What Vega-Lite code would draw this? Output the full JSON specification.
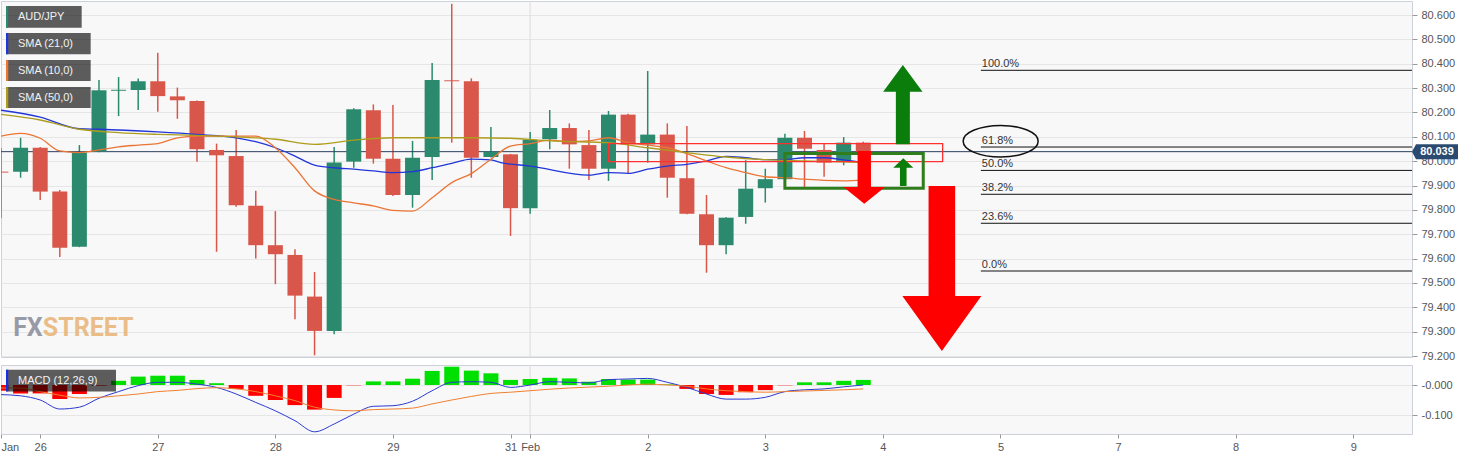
{
  "$schema": "https://vega.github.io/schema/vega-lite/v6.json",
  "padding": 0,
  "background": "#ffffff",
  "bounds": "flush",
  "spacing": 8,
  "resolve": {"scale": {"x": "independent", "y": "independent", "color": "independent", "shape": "independent"}, "axis": {"x": "independent", "y": "independent"}},
  "config": {
    "font": "Liberation Sans",
    "view": {"fill": "#f8f8f8", "stroke": "#cdd1d9", "strokeWidth": 1},
    "scale": {"continuousPadding": 0},
    "axis": {"labelFont": "Liberation Sans", "labelFontSize": 11, "labelColor": "#555555", "tickColor": "#9a9a9a", "domain": false, "gridColor": "#e6e6e6"}
  },
  "datasets": {
    "candles": [
      {"i":0,"o":79.957,"h":80.054,"l":79.767,"c":79.953},
      {"i":1,"o":79.957,"h":80.096,"l":79.932,"c":80.055},
      {"i":2,"o":80.055,"h":80.058,"l":79.841,"c":79.875},
      {"i":3,"o":79.875,"h":79.882,"l":79.607,"c":79.645},
      {"i":4,"o":79.649,"h":80.066,"l":79.647,"c":80.035},
      {"i":5,"o":80.039,"h":80.333,"l":80.037,"c":80.291},
      {"i":6,"o":80.289,"h":80.345,"l":80.185,"c":80.293},
      {"i":7,"o":80.292,"h":80.339,"l":80.21,"c":80.328},
      {"i":8,"o":80.328,"h":80.445,"l":80.203,"c":80.267},
      {"i":9,"o":80.266,"h":80.302,"l":80.174,"c":80.25},
      {"i":10,"o":80.247,"h":80.249,"l":79.998,"c":80.049},
      {"i":11,"o":80.046,"h":80.072,"l":79.628,"c":80.024},
      {"i":12,"o":80.021,"h":80.128,"l":79.813,"c":79.819},
      {"i":13,"o":79.817,"h":79.878,"l":79.6,"c":79.655},
      {"i":14,"o":79.655,"h":79.795,"l":79.495,"c":79.618},
      {"i":15,"o":79.615,"h":79.638,"l":79.351,"c":79.448},
      {"i":16,"o":79.444,"h":79.545,"l":79.203,"c":79.303},
      {"i":17,"o":79.303,"h":80.058,"l":79.289,"c":79.995},
      {"i":18,"o":79.998,"h":80.217,"l":79.973,"c":80.213},
      {"i":19,"o":80.209,"h":80.233,"l":79.99,"c":80.01},
      {"i":20,"o":80.01,"h":80.231,"l":79.857,"c":79.861},
      {"i":21,"o":79.861,"h":80.083,"l":79.809,"c":80.014},
      {"i":22,"o":80.017,"h":80.403,"l":79.923,"c":80.333},
      {"i":23,"o":80.332,"h":80.646,"l":80.076,"c":80.328},
      {"i":24,"o":80.328,"h":80.34,"l":79.932,"c":80.014},
      {"i":25,"o":80.017,"h":80.14,"l":80.015,"c":80.039},
      {"i":26,"o":80.028,"h":80.03,"l":79.693,"c":79.807},
      {"i":27,"o":79.807,"h":80.12,"l":79.784,"c":80.088},
      {"i":28,"o":80.09,"h":80.21,"l":80.049,"c":80.136},
      {"i":29,"o":80.136,"h":80.155,"l":79.969,"c":80.069},
      {"i":30,"o":80.066,"h":80.128,"l":79.923,"c":79.969},
      {"i":31,"o":79.969,"h":80.206,"l":79.919,"c":80.191},
      {"i":32,"o":80.191,"h":80.195,"l":79.95,"c":80.069},
      {"i":33,"o":80.069,"h":80.37,"l":79.994,"c":80.109},
      {"i":34,"o":80.109,"h":80.155,"l":79.85,"c":79.932},
      {"i":35,"o":79.93,"h":80.144,"l":79.782,"c":79.784},
      {"i":36,"o":79.782,"h":79.861,"l":79.542,"c":79.655},
      {"i":37,"o":79.655,"h":79.77,"l":79.618,"c":79.768},
      {"i":38,"o":79.771,"h":80.004,"l":79.743,"c":79.887},
      {"i":39,"o":79.889,"h":79.969,"l":79.83,"c":79.926},
      {"i":40,"o":79.926,"h":80.113,"l":79.919,"c":80.096},
      {"i":41,"o":80.096,"h":80.124,"l":79.891,"c":80.051},
      {"i":42,"o":80.046,"h":80.073,"l":79.936,"c":79.994},
      {"i":43,"o":80.001,"h":80.099,"l":79.983,"c":80.076},
      {"i":44,"o":80.076,"h":80.08,"l":80.03,"c":80.039}
    ],
    "edgeCandle": [
      {"i":0,"i2":0.38,"o":79.957,"c":79.953}
    ],
    "edgeHist": [
      {"i":0,"i2":0.38,"h":-0.019,"z":0}
    ],
    "sma": [
      {"name":"SMA (21,0)","i":0,"v":80.209},{"name":"SMA (21,0)","i":2,"v":80.181},{"name":"SMA (21,0)","i":4,"v":80.133},{"name":"SMA (21,0)","i":5,"v":80.131},{"name":"SMA (21,0)","i":8,"v":80.12},{"name":"SMA (21,0)","i":10,"v":80.11},{"name":"SMA (21,0)","i":12,"v":80.096},{"name":"SMA (21,0)","i":13,"v":80.08},{"name":"SMA (21,0)","i":14,"v":80.055},{"name":"SMA (21,0)","i":15,"v":80.021},{"name":"SMA (21,0)","i":16,"v":79.984},{"name":"SMA (21,0)","i":17,"v":79.973},{"name":"SMA (21,0)","i":18,"v":79.967},{"name":"SMA (21,0)","i":19,"v":79.96},{"name":"SMA (21,0)","i":20,"v":79.953},{"name":"SMA (21,0)","i":21,"v":79.957},{"name":"SMA (21,0)","i":22,"v":79.973},{"name":"SMA (21,0)","i":23,"v":79.991},{"name":"SMA (21,0)","i":24,"v":80.008},{"name":"SMA (21,0)","i":25,"v":80.005},{"name":"SMA (21,0)","i":25.5,"v":79.994},{"name":"SMA (21,0)","i":27,"v":79.98},{"name":"SMA (21,0)","i":30,"v":79.943},{"name":"SMA (21,0)","i":31,"v":79.953},{"name":"SMA (21,0)","i":32,"v":79.95},{"name":"SMA (21,0)","i":33,"v":79.967},{"name":"SMA (21,0)","i":34,"v":79.98},{"name":"SMA (21,0)","i":35,"v":79.987},{"name":"SMA (21,0)","i":36,"v":80.001},{"name":"SMA (21,0)","i":37,"v":80.02},{"name":"SMA (21,0)","i":38,"v":80.014},{"name":"SMA (21,0)","i":39,"v":80.006},{"name":"SMA (21,0)","i":40,"v":80.006},{"name":"SMA (21,0)","i":41,"v":80.014},{"name":"SMA (21,0)","i":42,"v":80.014},{"name":"SMA (21,0)","i":43,"v":80.005},{"name":"SMA (21,0)","i":44,"v":79.994},
      {"name":"SMA (10,0)","i":0,"v":80.103},{"name":"SMA (10,0)","i":1,"v":80.114},{"name":"SMA (10,0)","i":2,"v":80.094},{"name":"SMA (10,0)","i":3,"v":80.042},{"name":"SMA (10,0)","i":4,"v":80.035},{"name":"SMA (10,0)","i":5,"v":80.046},{"name":"SMA (10,0)","i":6,"v":80.059},{"name":"SMA (10,0)","i":7,"v":80.066},{"name":"SMA (10,0)","i":8,"v":80.072},{"name":"SMA (10,0)","i":9,"v":80.096},{"name":"SMA (10,0)","i":10,"v":80.103},{"name":"SMA (10,0)","i":11,"v":80.103},{"name":"SMA (10,0)","i":12,"v":80.103},{"name":"SMA (10,0)","i":13,"v":80.103},{"name":"SMA (10,0)","i":14,"v":80.055},{"name":"SMA (10,0)","i":15,"v":79.973},{"name":"SMA (10,0)","i":16,"v":79.878},{"name":"SMA (10,0)","i":17,"v":79.843},{"name":"SMA (10,0)","i":18,"v":79.829},{"name":"SMA (10,0)","i":19,"v":79.816},{"name":"SMA (10,0)","i":20,"v":79.798},{"name":"SMA (10,0)","i":21,"v":79.795},{"name":"SMA (10,0)","i":22,"v":79.85},{"name":"SMA (10,0)","i":23,"v":79.912},{"name":"SMA (10,0)","i":24,"v":79.949},{"name":"SMA (10,0)","i":25,"v":80.008},{"name":"SMA (10,0)","i":26,"v":80.062},{"name":"SMA (10,0)","i":27,"v":80.072},{"name":"SMA (10,0)","i":28,"v":80.086},{"name":"SMA (10,0)","i":29,"v":80.08},{"name":"SMA (10,0)","i":30,"v":80.083},{"name":"SMA (10,0)","i":31,"v":80.096},{"name":"SMA (10,0)","i":32,"v":80.076},{"name":"SMA (10,0)","i":33,"v":80.066},{"name":"SMA (10,0)","i":34,"v":80.055},{"name":"SMA (10,0)","i":35,"v":80.031},{"name":"SMA (10,0)","i":36,"v":80.001},{"name":"SMA (10,0)","i":37,"v":79.973},{"name":"SMA (10,0)","i":38,"v":79.953},{"name":"SMA (10,0)","i":39,"v":79.936},{"name":"SMA (10,0)","i":40,"v":79.932},{"name":"SMA (10,0)","i":41,"v":79.926},{"name":"SMA (10,0)","i":42,"v":79.921},{"name":"SMA (10,0)","i":43,"v":79.919},{"name":"SMA (10,0)","i":44,"v":79.923},
      {"name":"SMA (50,0)","i":0,"v":80.192},{"name":"SMA (50,0)","i":2,"v":80.169},{"name":"SMA (50,0)","i":4,"v":80.131},{"name":"SMA (50,0)","i":6,"v":80.117},{"name":"SMA (50,0)","i":8,"v":80.11},{"name":"SMA (50,0)","i":10,"v":80.106},{"name":"SMA (50,0)","i":12,"v":80.1},{"name":"SMA (50,0)","i":14,"v":80.09},{"name":"SMA (50,0)","i":16,"v":80.069},{"name":"SMA (50,0)","i":18,"v":80.086},{"name":"SMA (50,0)","i":20,"v":80.096},{"name":"SMA (50,0)","i":22,"v":80.096},{"name":"SMA (50,0)","i":24,"v":80.096},{"name":"SMA (50,0)","i":26,"v":80.094},{"name":"SMA (50,0)","i":28,"v":80.083},{"name":"SMA (50,0)","i":31,"v":80.076},{"name":"SMA (50,0)","i":33,"v":80.055},{"name":"SMA (50,0)","i":35,"v":80.035},{"name":"SMA (50,0)","i":37,"v":80.017},{"name":"SMA (50,0)","i":39,"v":80.006},{"name":"SMA (50,0)","i":41,"v":80.001},{"name":"SMA (50,0)","i":43,"v":79.997},{"name":"SMA (50,0)","i":44,"v":79.994}
    ],
    "fib": [
      {"lab":"100.0%","p":80.373},{"lab":"61.8%","p":80.058},{"lab":"50.0%","p":79.962},{"lab":"38.2%","p":79.864},{"lab":"23.6%","p":79.745},{"lab":"0.0%","p":79.549}
    ],
    "zones": [
      {"z":"r","x1":31.0,"x2":48.05,"y1":80.072,"y2":79.998},
      {"z":"g","x1":40.0,"x2":47.06,"y1":80.031,"y2":79.889}
    ],
    "arrows": [
      {"a":"upBig","i":46.02,"p":80.069},
      {"a":"upSmall","i":46.04,"p":79.898},
      {"a":"downMid","i":44.05,"p":80.042},
      {"a":"downBig","i":48.01,"p":79.898}
    ],
    "legend": [
      {"name":"AUD/JPY","x1":0.255,"x2":4.117,"xs":0.37,"y1":80.637,"y2":80.548,"ym":80.5925},
      {"name":"SMA (21,0)","x1":0.255,"x2":4.576,"xs":0.37,"y1":80.526,"y2":80.439,"ym":80.4825},
      {"name":"SMA (10,0)","x1":0.255,"x2":4.576,"xs":0.37,"y1":80.415,"y2":80.329,"ym":80.372},
      {"name":"SMA (50,0)","x1":0.255,"x2":4.576,"xs":0.37,"y1":80.304,"y2":80.218,"ym":80.261}
    ],
    "hist": [
      {"i":0,"h":-0.019},{"i":1,"h":-0.028},{"i":2,"h":-0.028},{"i":3,"h":-0.047},{"i":4,"h":-0.03},{"i":5,"h":-0.002},{"i":6,"h":0.014},{"i":7,"h":0.028},{"i":8,"h":0.031},{"i":9,"h":0.031},{"i":10,"h":0.017},{"i":11,"h":0.006},{"i":12,"h":-0.013},{"i":13,"h":-0.036},{"i":14,"h":-0.05},{"i":15,"h":-0.067},{"i":16,"h":-0.082},{"i":17,"h":-0.043},{"i":18,"h":-0.001},{"i":19,"h":0.012},{"i":20,"h":0.012},{"i":21,"h":0.021},{"i":22,"h":0.047},{"i":23,"h":0.061},{"i":24,"h":0.048},{"i":25,"h":0.039},{"i":26,"h":0.017},{"i":27,"h":0.02},{"i":28,"h":0.024},{"i":29,"h":0.022},{"i":30,"h":0.011},{"i":31,"h":0.02},{"i":32,"h":0.018},{"i":33,"h":0.018},{"i":34,"h":0.002},{"i":35,"h":-0.013},{"i":36,"h":-0.03},{"i":37,"h":-0.033},{"i":38,"h":-0.024},{"i":39,"h":-0.017},{"i":40,"h":-0.001},{"i":41,"h":0.009},{"i":42,"h":0.009},{"i":43,"h":0.014},{"i":44,"h":0.017}
    ],
    "macd": [
      {"name":"MACD","i":0,"v":-0.032},{"name":"MACD","i":1,"v":-0.036},{"name":"MACD","i":2,"v":-0.05},{"name":"MACD","i":3,"v":-0.08},{"name":"MACD","i":4,"v":-0.074},{"name":"MACD","i":5,"v":-0.044},{"name":"MACD","i":6,"v":-0.022},{"name":"MACD","i":7,"v":-0.002},{"name":"MACD","i":8,"v":0.009},{"name":"MACD","i":9,"v":0.009},{"name":"MACD","i":10,"v":0.003},{"name":"MACD","i":11,"v":-0.008},{"name":"MACD","i":12,"v":-0.03},{"name":"MACD","i":13,"v":-0.058},{"name":"MACD","i":14,"v":-0.086},{"name":"MACD","i":15,"v":-0.119},{"name":"MACD","i":16,"v":-0.156},{"name":"MACD","i":17,"v":-0.13},{"name":"MACD","i":18,"v":-0.097},{"name":"MACD","i":19,"v":-0.071},{"name":"MACD","i":20,"v":-0.069},{"name":"MACD","i":21,"v":-0.054},{"name":"MACD","i":22,"v":-0.019},{"name":"MACD","i":23,"v":0.009},{"name":"MACD","i":24,"v":0.011},{"name":"MACD","i":25,"v":0.009},{"name":"MACD","i":26,"v":-0.008},{"name":"MACD","i":27,"v":0.0},{"name":"MACD","i":28,"v":0.011},{"name":"MACD","i":29,"v":0.009},{"name":"MACD","i":30,"v":0.007},{"name":"MACD","i":31,"v":0.018},{"name":"MACD","i":32,"v":0.02},{"name":"MACD","i":33,"v":0.022},{"name":"MACD","i":34,"v":0.009},{"name":"MACD","i":35,"v":-0.008},{"name":"MACD","i":36,"v":-0.03},{"name":"MACD","i":37,"v":-0.047},{"name":"MACD","i":38,"v":-0.047},{"name":"MACD","i":39,"v":-0.041},{"name":"MACD","i":40,"v":-0.022},{"name":"MACD","i":41,"v":-0.016},{"name":"MACD","i":42,"v":-0.013},{"name":"MACD","i":43,"v":-0.006},{"name":"MACD","i":44,"v":0.0},
      {"name":"Signal","i":0,"v":-0.01},{"name":"Signal","i":1,"v":-0.01},{"name":"Signal","i":2,"v":-0.022},{"name":"Signal","i":3,"v":-0.034},{"name":"Signal","i":4,"v":-0.043},{"name":"Signal","i":5,"v":-0.041},{"name":"Signal","i":6,"v":-0.036},{"name":"Signal","i":7,"v":-0.03},{"name":"Signal","i":8,"v":-0.022},{"name":"Signal","i":9,"v":-0.018},{"name":"Signal","i":10,"v":-0.012},{"name":"Signal","i":11,"v":-0.009},{"name":"Signal","i":12,"v":-0.013},{"name":"Signal","i":13,"v":-0.022},{"name":"Signal","i":14,"v":-0.036},{"name":"Signal","i":15,"v":-0.052},{"name":"Signal","i":16,"v":-0.074},{"name":"Signal","i":17,"v":-0.083},{"name":"Signal","i":18,"v":-0.086},{"name":"Signal","i":19,"v":-0.082},{"name":"Signal","i":20,"v":-0.08},{"name":"Signal","i":21,"v":-0.077},{"name":"Signal","i":22,"v":-0.063},{"name":"Signal","i":23,"v":-0.05},{"name":"Signal","i":24,"v":-0.038},{"name":"Signal","i":25,"v":-0.028},{"name":"Signal","i":26,"v":-0.024},{"name":"Signal","i":27,"v":-0.019},{"name":"Signal","i":28,"v":-0.014},{"name":"Signal","i":29,"v":-0.01},{"name":"Signal","i":30,"v":-0.007},{"name":"Signal","i":31,"v":-0.004},{"name":"Signal","i":32,"v":0.0},{"name":"Signal","i":33,"v":0.003},{"name":"Signal","i":34,"v":0.0},{"name":"Signal","i":35,"v":-0.004},{"name":"Signal","i":36,"v":-0.013},{"name":"Signal","i":37,"v":-0.019},{"name":"Signal","i":38,"v":-0.022},{"name":"Signal","i":39,"v":-0.024},{"name":"Signal","i":40,"v":-0.022},{"name":"Signal","i":41,"v":-0.02},{"name":"Signal","i":42,"v":-0.018},{"name":"Signal","i":43,"v":-0.016},{"name":"Signal","i":44,"v":-0.013}
    ]
  },
  "vconcat": [
    {
      "width": 1411,
      "height": 356,
      "layer": [
        {
          "data": {"values": [{"i": 27, "p": 80.0}]},
          "mark": {"type": "rule", "color": "#dcdcdc", "strokeWidth": 1},
          "encoding": {
            "x": {"field": "i", "type": "quantitative", "scale": {"domain": [0, 72], "nice": false, "zero": false, "padding": 0}, "axis": null}
          }
        },
        {
          "data": {"name": "candles"},
          "mark": {"type": "rule", "strokeWidth": 1.5, "clip": true},
          "encoding": {
            "x": {"field": "i", "type": "quantitative", "axis": null},
            "y": {"field": "l", "type": "quantitative", "scale": {"domain": [79.196, 80.6575], "nice": false, "zero": false},
                  "axis": {"orient": "right", "values": [79.2,79.3,79.4,79.5,79.6,79.7,79.8,79.9,80.0,80.1,80.2,80.3,80.4,80.5,80.6], "format": ".3f", "grid": true, "tickSize": 5, "labelPadding": 4, "title": null}},
            "y2": {"field": "h"},
            "color": {"condition": {"test": "datum.c >= datum.o", "value": "#2b8a6e"}, "value": "#d9574a"}
          }
        },
        {
          "data": {"name": "fib"},
          "mark": {"type": "rule", "color": "#111111", "strokeWidth": 1},
          "encoding": {
            "x": {"datum": 50, "type": "quantitative", "axis": null},
            "x2": {"datum": 72},
            "y": {"field": "p", "type": "quantitative", "axis": {"orient": "right", "values": [79.2,79.3,79.4,79.5,79.6,79.7,79.8,79.9,80.0,80.1,80.2,80.3,80.4,80.5,80.6], "format": ".3f", "grid": true, "tickSize": 5, "labelPadding": 4, "title": null}}
          }
        },
        {
          "data": {"values": [{"p": 80.039}]},
          "mark": {"type": "rule", "color": "#2b3f5f", "strokeWidth": 1},
          "encoding": {
            "y": {"field": "p", "type": "quantitative", "axis": {"orient": "right", "values": [79.2,79.3,79.4,79.5,79.6,79.7,79.8,79.9,80.0,80.1,80.2,80.3,80.4,80.5,80.6], "format": ".3f", "grid": true, "tickSize": 5, "labelPadding": 4, "title": null}}
          }
        },
        {
          "data": {"name": "candles"},
          "transform": [{"filter": "datum.i > 0"}],
          "mark": {"type": "bar", "size": 15, "clip": true},
          "encoding": {
            "x": {"field": "i", "type": "quantitative", "axis": null},
            "y": {"field": "o", "type": "quantitative", "axis": {"orient": "right", "values": [79.2,79.3,79.4,79.5,79.6,79.7,79.8,79.9,80.0,80.1,80.2,80.3,80.4,80.5,80.6], "format": ".3f", "grid": true, "tickSize": 5, "labelPadding": 4, "title": null}},
            "y2": {"field": "c"},
            "color": {"condition": {"test": "datum.c >= datum.o", "value": "#2b8a6e"}, "value": "#d9574a"}
          }
        },
        {
          "data": {"name": "edgeCandle"},
          "mark": {"type": "rect", "color": "#d9574a"},
          "encoding": {
            "x": {"field": "i", "type": "quantitative", "axis": null},
            "x2": {"field": "i2"},
            "y": {"field": "o", "type": "quantitative", "axis": {"orient": "right", "values": [79.2,79.3,79.4,79.5,79.6,79.7,79.8,79.9,80.0,80.1,80.2,80.3,80.4,80.5,80.6], "format": ".3f", "grid": true, "tickSize": 5, "labelPadding": 4, "title": null}},
            "y2": {"field": "c"}
          }
        },
        {
          "data": {"name": "sma"},
          "mark": {"type": "line", "strokeWidth": 1.3, "interpolate": "monotone", "clip": true},
          "encoding": {
            "x": {"field": "i", "type": "quantitative", "axis": null},
            "y": {"field": "v", "type": "quantitative", "axis": {"orient": "right", "values": [79.2,79.3,79.4,79.5,79.6,79.7,79.8,79.9,80.0,80.1,80.2,80.3,80.4,80.5,80.6], "format": ".3f", "grid": true, "tickSize": 5, "labelPadding": 4, "title": null}},
            "color": {"field": "name", "type": "nominal", "legend": null,
                      "scale": {"domain": ["AUD/JPY", "SMA (21,0)", "SMA (10,0)", "SMA (50,0)"], "range": ["#2b8a6e", "#2236d8", "#ec7434", "#ad9d1c"]}}
          }
        },
        {
          "data": {"name": "zones"},
          "mark": {"type": "rect", "filled": false},
          "encoding": {
            "x": {"field": "x1", "type": "quantitative", "axis": null},
            "x2": {"field": "x2"},
            "y": {"field": "y1", "type": "quantitative", "axis": {"orient": "right", "values": [79.2,79.3,79.4,79.5,79.6,79.7,79.8,79.9,80.0,80.1,80.2,80.3,80.4,80.5,80.6], "format": ".3f", "grid": true, "tickSize": 5, "labelPadding": 4, "title": null}},
            "y2": {"field": "y2"},
            "stroke": {"condition": {"test": "datum.z == 'r'", "value": "#ff3030"}, "value": "#2f7d1c"},
            "strokeWidth": {"condition": {"test": "datum.z == 'r'", "value": 1.3}, "value": 3}
          }
        },
        {
          "data": {"name": "arrows"},
          "mark": {"type": "point", "filled": true, "size": 4, "opacity": 1, "strokeWidth": 0},
          "encoding": {
            "x": {"field": "i", "type": "quantitative", "axis": null},
            "y": {"field": "p", "type": "quantitative", "axis": {"orient": "right", "values": [79.2,79.3,79.4,79.5,79.6,79.7,79.8,79.9,80.0,80.1,80.2,80.3,80.4,80.5,80.6], "format": ".3f", "grid": true, "tickSize": 5, "labelPadding": 4, "title": null}},
            "shape": {"field": "a", "type": "nominal", "legend": null,
                      "scale": {"domain": ["upBig", "upSmall", "downMid", "downBig"],
                                "range": [
                                  "M -7 0 L 7 0 L 7 -52.6 L 19.7 -52.6 L 0 -79.3 L -19.7 -52.6 L -7 -52.6 Z",
                                  "M -3.3 0 L 3.3 0 L 3.3 -18.3 L 10 -18.3 L 0 -27.7 L -10 -18.3 L -3.3 -18.3 Z",
                                  "M -6.7 0 L 6.7 0 L 6.7 36 L 20.8 36 L 0 52.7 L -20.8 36 L -6.7 36 Z",
                                  "M -13.3 0 L 13.3 0 L 13.3 110 L 39.5 110 L 0 165 L -39.5 110 L -13.3 110 Z"
                                ]}},
            "fill": {"condition": {"test": "indexof(datum.a, 'up') >= 0", "value": "#0b7d0b"}, "value": "#ff0000"}
          }
        },
        {
          "data": {"values": [{"i": 51.01, "p": 80.082}]},
          "mark": {"type": "point", "filled": false, "size": 4, "opacity": 1, "stroke": "#111111", "strokeWidth": 1.5,
                   "shape": "M -37.5 0 A 37.5 15.8 0 1 0 37.5 0 A 37.5 15.8 0 1 0 -37.5 0 Z"},
          "encoding": {
            "x": {"field": "i", "type": "quantitative", "axis": null},
            "y": {"field": "p", "type": "quantitative", "axis": {"orient": "right", "values": [79.2,79.3,79.4,79.5,79.6,79.7,79.8,79.9,80.0,80.1,80.2,80.3,80.4,80.5,80.6], "format": ".3f", "grid": true, "tickSize": 5, "labelPadding": 4, "title": null}}
          }
        },
        {
          "data": {"name": "fib"},
          "mark": {"type": "text", "align": "left", "baseline": "alphabetic", "dy": -3, "fontSize": 11, "color": "#333333"},
          "encoding": {
            "x": {"datum": 50.05, "type": "quantitative", "axis": null},
            "y": {"field": "p", "type": "quantitative", "axis": {"orient": "right", "values": [79.2,79.3,79.4,79.5,79.6,79.7,79.8,79.9,80.0,80.1,80.2,80.3,80.4,80.5,80.6], "format": ".3f", "grid": true, "tickSize": 5, "labelPadding": 4, "title": null}},
            "text": {"field": "lab"}
          }
        },
        {
          "data": {"name": "legend"},
          "mark": {"type": "rect", "color": "#000000", "opacity": 0.63},
          "encoding": {
            "x": {"field": "x1", "type": "quantitative", "axis": null},
            "x2": {"field": "x2"},
            "y": {"field": "y1", "type": "quantitative", "axis": {"orient": "right", "values": [79.2,79.3,79.4,79.5,79.6,79.7,79.8,79.9,80.0,80.1,80.2,80.3,80.4,80.5,80.6], "format": ".3f", "grid": true, "tickSize": 5, "labelPadding": 4, "title": null}},
            "y2": {"field": "y2"}
          }
        },
        {
          "data": {"name": "legend"},
          "mark": {"type": "rect"},
          "encoding": {
            "x": {"field": "x1", "type": "quantitative", "axis": null},
            "x2": {"field": "xs"},
            "y": {"field": "y1", "type": "quantitative", "axis": {"orient": "right", "values": [79.2,79.3,79.4,79.5,79.6,79.7,79.8,79.9,80.0,80.1,80.2,80.3,80.4,80.5,80.6], "format": ".3f", "grid": true, "tickSize": 5, "labelPadding": 4, "title": null}},
            "y2": {"field": "y2"},
            "color": {"field": "name", "type": "nominal", "legend": null,
                      "scale": {"domain": ["AUD/JPY", "SMA (21,0)", "SMA (10,0)", "SMA (50,0)"], "range": ["#2b8a6e", "#2236d8", "#ec7434", "#ad9d1c"]}}
          }
        },
        {
          "data": {"name": "legend"},
          "mark": {"type": "text", "align": "left", "baseline": "middle", "dx": 12, "fontSize": 11, "color": "#f2f2f2"},
          "encoding": {
            "x": {"field": "x1", "type": "quantitative", "axis": null},
            "y": {"field": "ym", "type": "quantitative", "axis": {"orient": "right", "values": [79.2,79.3,79.4,79.5,79.6,79.7,79.8,79.9,80.0,80.1,80.2,80.3,80.4,80.5,80.6], "format": ".3f", "grid": true, "tickSize": 5, "labelPadding": 4, "title": null}},
            "text": {"field": "name"}
          }
        },
        {
          "data": {"values": [{"t": "FX", "i": 2.13, "p": 79.282}]},
          "mark": {"type": "text", "align": "right", "baseline": "alphabetic", "font": "Roboto", "fontWeight": "bold", "fontSize": 25, "opacity": 0.9, "color": "#8e909e"},
          "encoding": {
            "x": {"field": "i", "type": "quantitative", "axis": null},
            "y": {"field": "p", "type": "quantitative", "axis": {"orient": "right", "values": [79.2,79.3,79.4,79.5,79.6,79.7,79.8,79.9,80.0,80.1,80.2,80.3,80.4,80.5,80.6], "format": ".3f", "grid": true, "tickSize": 5, "labelPadding": 4, "title": null}},
            "text": {"field": "t"}
          }
        },
        {
          "data": {"values": [{"t": "STREET", "i": 2.13, "p": 79.282}]},
          "mark": {"type": "text", "align": "left", "baseline": "alphabetic", "font": "Roboto", "fontWeight": "bold", "fontSize": 25, "opacity": 0.9, "color": "#e9b77c"},
          "encoding": {
            "x": {"field": "i", "type": "quantitative", "axis": null},
            "y": {"field": "p", "type": "quantitative", "axis": {"orient": "right", "values": [79.2,79.3,79.4,79.5,79.6,79.7,79.8,79.9,80.0,80.1,80.2,80.3,80.4,80.5,80.6], "format": ".3f", "grid": true, "tickSize": 5, "labelPadding": 4, "title": null}},
            "text": {"field": "t"}
          }
        },
        {
          "data": {"values": [{"i": 72, "p": 80.039, "t": "80.039"}]},
          "mark": {"type": "point", "filled": true, "size": 4, "opacity": 1, "strokeWidth": 0, "color": "#2b4a6f",
                   "shape": "M 0 0 L 4 -7.5 L 46 -7.5 L 46 7.5 L 4 7.5 Z"},
          "encoding": {
            "x": {"field": "i", "type": "quantitative", "axis": null},
            "y": {"field": "p", "type": "quantitative", "axis": {"orient": "right", "values": [79.2,79.3,79.4,79.5,79.6,79.7,79.8,79.9,80.0,80.1,80.2,80.3,80.4,80.5,80.6], "format": ".3f", "grid": true, "tickSize": 5, "labelPadding": 4, "title": null}}
          }
        },
        {
          "data": {"values": [{"i": 72, "p": 80.039, "t": "80.039"}]},
          "mark": {"type": "text", "align": "center", "baseline": "middle", "dx": 25, "fontSize": 11, "fontWeight": "bold", "color": "#ffffff"},
          "encoding": {
            "x": {"field": "i", "type": "quantitative", "axis": null},
            "y": {"field": "p", "type": "quantitative", "axis": {"orient": "right", "values": [79.2,79.3,79.4,79.5,79.6,79.7,79.8,79.9,80.0,80.1,80.2,80.3,80.4,80.5,80.6], "format": ".3f", "grid": true, "tickSize": 5, "labelPadding": 4, "title": null}},
            "text": {"field": "t"}
          }
        }
      ]
    },
    {
      "width": 1411,
      "height": 69,
      "layer": [
        {
          "data": {"values": [{"i": 27}]},
          "mark": {"type": "rule", "color": "#dcdcdc", "strokeWidth": 1},
          "encoding": {
            "x": {"field": "i", "type": "quantitative", "scale": {"domain": [0, 72], "nice": false, "zero": false, "padding": 0},
                  "axis": {"orient": "bottom", "values": [0,2,8,14,20,26,27,33,39,45,51,57,63,69], "grid": false, "tickSize": 4, "labelPadding": 3, "labelOverlap": false, "labelFlush": true,
                           "labelExpr": "datum.value==0?'Jan':datum.value==2?'26':datum.value==8?'27':datum.value==14?'28':datum.value==20?'29':datum.value==26?'31':datum.value==27?'Feb':datum.value==33?'2':datum.value==39?'3':datum.value==45?'4':datum.value==51?'5':datum.value==57?'7':datum.value==63?'8':'9'",
                           "title": null}}
          }
        },
        {
          "data": {"name": "hist"},
          "transform": [{"filter": "datum.i > 0"}],
          "mark": {"type": "bar", "size": 15, "clip": true},
          "encoding": {
            "x": {"field": "i", "type": "quantitative",
                  "axis": {"orient": "bottom", "values": [0,2,8,14,20,26,27,33,39,45,51,57,63,69], "grid": false, "tickSize": 4, "labelPadding": 3, "labelOverlap": false, "labelFlush": true,
                           "labelExpr": "datum.value==0?'Jan':datum.value==2?'26':datum.value==8?'27':datum.value==14?'28':datum.value==20?'29':datum.value==26?'31':datum.value==27?'Feb':datum.value==33?'2':datum.value==39?'3':datum.value==45?'4':datum.value==51?'5':datum.value==57?'7':datum.value==63?'8':'9'",
                           "title": null}},
            "y": {"field": "h", "type": "quantitative", "scale": {"domain": [-0.1633, 0.0667], "nice": false, "zero": false},
                  "axis": {"orient": "right", "values": [0, -0.1], "grid": true, "tickSize": 5, "labelPadding": 4,
                           "labelExpr": "datum.value == 0 ? '-0.000' : '-0.100'", "title": null}},
            "color": {"condition": {"test": "datum.h >= 0", "value": "#00e000"}, "value": "#ff0000"}
          }
        },
        {
          "data": {"name": "edgeHist"},
          "mark": {"type": "rect", "color": "#ff0000"},
          "encoding": {
            "x": {"field": "i", "type": "quantitative",
                  "axis": {"orient": "bottom", "values": [0,2,8,14,20,26,27,33,39,45,51,57,63,69], "grid": false, "tickSize": 4, "labelPadding": 3, "labelOverlap": false, "labelFlush": true,
                           "labelExpr": "datum.value==0?'Jan':datum.value==2?'26':datum.value==8?'27':datum.value==14?'28':datum.value==20?'29':datum.value==26?'31':datum.value==27?'Feb':datum.value==33?'2':datum.value==39?'3':datum.value==45?'4':datum.value==51?'5':datum.value==57?'7':datum.value==63?'8':'9'",
                           "title": null}},
            "x2": {"field": "i2"},
            "y": {"field": "h", "type": "quantitative",
                  "axis": {"orient": "right", "values": [0, -0.1], "grid": true, "tickSize": 5, "labelPadding": 4,
                           "labelExpr": "datum.value == 0 ? '-0.000' : '-0.100'", "title": null}},
            "y2": {"field": "z"}
          }
        },
        {
          "data": {"name": "macd"},
          "mark": {"type": "line", "strokeWidth": 1, "interpolate": "monotone", "clip": true},
          "encoding": {
            "x": {"field": "i", "type": "quantitative",
                  "axis": {"orient": "bottom", "values": [0,2,8,14,20,26,27,33,39,45,51,57,63,69], "grid": false, "tickSize": 4, "labelPadding": 3, "labelOverlap": false, "labelFlush": true,
                           "labelExpr": "datum.value==0?'Jan':datum.value==2?'26':datum.value==8?'27':datum.value==14?'28':datum.value==20?'29':datum.value==26?'31':datum.value==27?'Feb':datum.value==33?'2':datum.value==39?'3':datum.value==45?'4':datum.value==51?'5':datum.value==57?'7':datum.value==63?'8':'9'",
                           "title": null}},
            "y": {"field": "v", "type": "quantitative",
                  "axis": {"orient": "right", "values": [0, -0.1], "grid": true, "tickSize": 5, "labelPadding": 4,
                           "labelExpr": "datum.value == 0 ? '-0.000' : '-0.100'", "title": null}},
            "color": {"field": "name", "type": "nominal", "legend": null,
                      "scale": {"domain": ["MACD", "Signal"], "range": ["#2a3ad0", "#f08030"]}}
          }
        },
        {
          "data": {"values": [{"name": "MACD (12,26,9)", "x1": 0.255, "x2": 5.867, "xs": 0.37, "y1": 0.051, "y2": -0.0213, "ym": 0.0149}]},
          "mark": {"type": "rect", "color": "#000000", "opacity": 0.63},
          "encoding": {
            "x": {"field": "x1", "type": "quantitative",
                  "axis": {"orient": "bottom", "values": [0,2,8,14,20,26,27,33,39,45,51,57,63,69], "grid": false, "tickSize": 4, "labelPadding": 3, "labelOverlap": false, "labelFlush": true,
                           "labelExpr": "datum.value==0?'Jan':datum.value==2?'26':datum.value==8?'27':datum.value==14?'28':datum.value==20?'29':datum.value==26?'31':datum.value==27?'Feb':datum.value==33?'2':datum.value==39?'3':datum.value==45?'4':datum.value==51?'5':datum.value==57?'7':datum.value==63?'8':'9'",
                           "title": null}},
            "x2": {"field": "x2"},
            "y": {"field": "y1", "type": "quantitative",
                  "axis": {"orient": "right", "values": [0, -0.1], "grid": true, "tickSize": 5, "labelPadding": 4,
                           "labelExpr": "datum.value == 0 ? '-0.000' : '-0.100'", "title": null}},
            "y2": {"field": "y2"}
          }
        },
        {
          "data": {"values": [{"name": "MACD (12,26,9)", "x1": 0.255, "x2": 5.867, "xs": 0.37, "y1": 0.051, "y2": -0.0213, "ym": 0.0149}]},
          "mark": {"type": "rect", "color": "#1a2fe0"},
          "encoding": {
            "x": {"field": "x1", "type": "quantitative",
                  "axis": {"orient": "bottom", "values": [0,2,8,14,20,26,27,33,39,45,51,57,63,69], "grid": false, "tickSize": 4, "labelPadding": 3, "labelOverlap": false, "labelFlush": true,
                           "labelExpr": "datum.value==0?'Jan':datum.value==2?'26':datum.value==8?'27':datum.value==14?'28':datum.value==20?'29':datum.value==26?'31':datum.value==27?'Feb':datum.value==33?'2':datum.value==39?'3':datum.value==45?'4':datum.value==51?'5':datum.value==57?'7':datum.value==63?'8':'9'",
                           "title": null}},
            "x2": {"field": "xs"},
            "y": {"field": "y1", "type": "quantitative",
                  "axis": {"orient": "right", "values": [0, -0.1], "grid": true, "tickSize": 5, "labelPadding": 4,
                           "labelExpr": "datum.value == 0 ? '-0.000' : '-0.100'", "title": null}},
            "y2": {"field": "y2"}
          }
        },
        {
          "data": {"values": [{"name": "MACD (12,26,9)", "x1": 0.255, "x2": 5.867, "xs": 0.37, "y1": 0.051, "y2": -0.0213, "ym": 0.0149}]},
          "mark": {"type": "text", "align": "left", "baseline": "middle", "dx": 12, "fontSize": 11, "color": "#f2f2f2"},
          "encoding": {
            "x": {"field": "x1", "type": "quantitative",
                  "axis": {"orient": "bottom", "values": [0,2,8,14,20,26,27,33,39,45,51,57,63,69], "grid": false, "tickSize": 4, "labelPadding": 3, "labelOverlap": false, "labelFlush": true,
                           "labelExpr": "datum.value==0?'Jan':datum.value==2?'26':datum.value==8?'27':datum.value==14?'28':datum.value==20?'29':datum.value==26?'31':datum.value==27?'Feb':datum.value==33?'2':datum.value==39?'3':datum.value==45?'4':datum.value==51?'5':datum.value==57?'7':datum.value==63?'8':'9'",
                           "title": null}},
            "y": {"field": "ym", "type": "quantitative",
                  "axis": {"orient": "right", "values": [0, -0.1], "grid": true, "tickSize": 5, "labelPadding": 4,
                           "labelExpr": "datum.value == 0 ? '-0.000' : '-0.100'", "title": null}},
            "text": {"field": "name"}
          }
        }
      ]
    }
  ]
}
